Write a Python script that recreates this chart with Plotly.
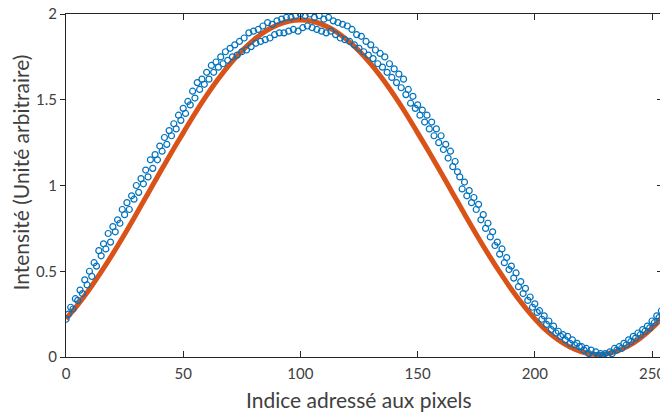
import plotly.graph_objects as go

# Pixel index (addressed pixel) and measured intensity
pixel_index = list(range(256))
intensity_measured = [
    0.22, 0.25, 0.29, 0.28, 0.34, 0.33, 0.39, 0.37, 0.45, 0.42,
    0.50, 0.47, 0.55, 0.53, 0.62, 0.59, 0.66, 0.63, 0.72, 0.67,
    0.76, 0.73, 0.80, 0.78, 0.86, 0.83, 0.90, 0.86, 0.94, 0.92,
    1.00, 0.96, 1.04, 1.01, 1.09, 1.05, 1.15, 1.10, 1.18, 1.15,
    1.23, 1.20, 1.28, 1.24, 1.32, 1.29, 1.36, 1.33, 1.41, 1.38,
    1.45, 1.42, 1.49, 1.47, 1.55, 1.51, 1.60, 1.56, 1.62, 1.59,
    1.66, 1.62, 1.70, 1.66, 1.72, 1.69, 1.75, 1.71, 1.78, 1.73,
    1.80, 1.75, 1.82, 1.76, 1.84, 1.78, 1.86, 1.79, 1.89, 1.81,
    1.90, 1.83, 1.91, 1.84, 1.93, 1.85, 1.95, 1.86, 1.94, 1.88,
    1.96, 1.89, 1.97, 1.89, 1.98, 1.90, 1.98, 1.91, 1.99, 1.90,
    2.00, 1.92, 1.99, 1.93, 2.00, 1.92, 1.98, 1.91, 1.99, 1.90,
    1.97, 1.89, 1.98, 1.90, 1.96, 1.88, 1.95, 1.86, 1.94, 1.85,
    1.93, 1.84, 1.91, 1.82, 1.88, 1.80, 1.87, 1.78, 1.84, 1.76,
    1.82, 1.74, 1.79, 1.71, 1.77, 1.69, 1.75, 1.66, 1.71, 1.63,
    1.68, 1.60, 1.65, 1.57, 1.62, 1.53, 1.56, 1.48, 1.52, 1.45,
    1.47, 1.41, 1.44, 1.37, 1.41, 1.33, 1.37, 1.29, 1.33, 1.25,
    1.29, 1.21, 1.24, 1.16, 1.20, 1.11, 1.14, 1.08, 1.05, 0.98,
    1.02, 0.94, 0.97, 0.90, 0.93, 0.86, 0.89, 0.80, 0.83, 0.75,
    0.78, 0.70, 0.73, 0.65, 0.67, 0.60, 0.63, 0.55, 0.58, 0.51,
    0.53, 0.46, 0.49, 0.41, 0.44, 0.37, 0.40, 0.33, 0.35, 0.29,
    0.31, 0.26, 0.27, 0.22, 0.24, 0.19, 0.21, 0.16, 0.18, 0.14,
    0.15, 0.12, 0.13, 0.10, 0.12, 0.08, 0.10, 0.07, 0.08, 0.06,
    0.06, 0.04, 0.05, 0.02, 0.04, 0.01, 0.03, 0.01, 0.02, 0.01,
    0.02, 0.01, 0.03, 0.02, 0.05, 0.04, 0.06, 0.05, 0.08, 0.07,
    0.10, 0.09, 0.12, 0.11, 0.14, 0.13, 0.16, 0.15, 0.18, 0.17,
    0.21, 0.20, 0.24, 0.23, 0.27, 0.27,
]

# Fitted model, sampled every 5 pixels
fit_index = list(range(0, 256, 5))
intensity_fit = [
    0.223, 0.304, 0.395, 0.496, 0.603, 0.716, 0.834, 0.954, 1.074, 1.193,
    1.307, 1.420, 1.525, 1.622, 1.709, 1.785, 1.848, 1.899, 1.935, 1.958,
    1.965, 1.958, 1.935, 1.899, 1.848, 1.785, 1.709, 1.622, 1.525, 1.420,
    1.307, 1.193, 1.074, 0.954, 0.834, 0.716, 0.603, 0.496, 0.395, 0.304,
    0.223, 0.153, 0.099, 0.058, 0.030, 0.016, 0.018, 0.034, 0.065, 0.110,
    0.168, 0.239,
]

x_ticks = [0, 50, 100, 150, 200, 250]
y_ticks = [0, 0.5, 1, 1.5, 2]

BLUE = "#0072BD"
ORANGE = "#D95319"
AXIS = "#262626"
TEXT = "#404040"
FONT = "Lato"

fig = go.Figure()

fig.add_trace(go.Scatter(
    x=fit_index, y=intensity_fit, mode="lines",
    line=dict(color=ORANGE, width=5, shape="spline"),
    showlegend=False, hoverinfo="skip",
))
fig.add_trace(go.Scatter(
    x=pixel_index, y=intensity_measured, mode="markers",
    marker=dict(symbol="circle-open", size=6, color=BLUE, line=dict(width=1.2, color=BLUE)),
    yaxis="y2", showlegend=False,
))

fig.update_layout(
    width=660, height=413,
    margin=dict(l=66, r=0, t=14, b=56, pad=0, autoexpand=False),
    paper_bgcolor="white", plot_bgcolor="white",
    font=dict(family=FONT, color=TEXT, size=15),
    xaxis=dict(
        range=[0, 253.4], tickvals=x_ticks, ticktext=[str(v) for v in x_ticks],
        ticks="inside", ticklen=6, tickwidth=1, tickcolor=AXIS,
        showline=True, linecolor=AXIS, linewidth=1, mirror="ticks",
        showgrid=False, zeroline=False, ticklabeloverflow="allow",
        ticklabelstandoff=3, automargin=False,
        tickfont=dict(family=FONT, size=15, color=TEXT),
    ),
    yaxis=dict(
        range=[0, 2], tickvals=y_ticks, ticktext=["0", "0.5", "1", "1.5", "2"],
        ticks="outside", ticklen=5, tickwidth=1, tickcolor=AXIS,
        showline=True, linecolor=AXIS, linewidth=1,
        showgrid=False, zeroline=False, automargin=False,
        tickfont=dict(family=FONT, size=15, color=TEXT),
    ),
    yaxis2=dict(
        range=[0, 2], overlaying="y", side="right", anchor="x",
        tickvals=y_ticks, showticklabels=False,
        ticks="inside", ticklen=3, tickwidth=1, tickcolor=AXIS,
        showline=False, showgrid=False, zeroline=False, automargin=False,
    ),
    annotations=[
        dict(text="Indice adressé aux pixels", xref="paper", yref="paper",
             x=0.493, y=-0.082, xanchor="center", yanchor="top", showarrow=False,
             font=dict(family=FONT, size=21, color=TEXT)),
        dict(text="Intensité (Unité arbitraire)", xref="paper", yref="paper",
             x=-0.076, y=0.5375, xanchor="center", yanchor="middle", showarrow=False,
             textangle=-90, font=dict(family=FONT, size=21, color=TEXT)),
    ],
)

# The last x tick label runs past the right edge: clip it to the figure box
clip_js = (
    "var gd = document.getElementById('{plot_id}');"
    "gd.style.overflow = 'hidden';"
    "gd.querySelectorAll('.svg-container').forEach(function (c) { c.style.overflow = 'hidden'; });"
    "document.body.style.overflow = 'hidden';"
    "document.documentElement.style.overflow = 'hidden';"
)

fig.write_html("out.html", post_script=clip_js)
